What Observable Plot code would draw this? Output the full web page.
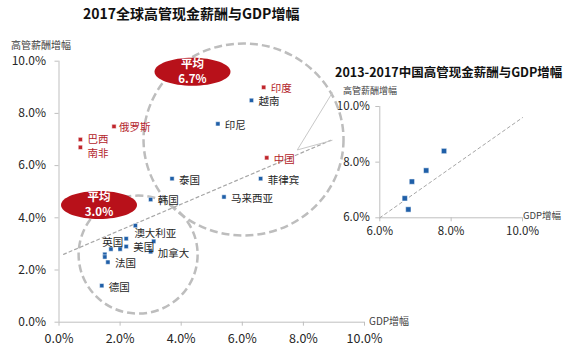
<!DOCTYPE html>
<html><head><meta charset="utf-8">
<script src="https://cdn.jsdelivr.net/npm/d3@7"></script>
<script src="https://cdn.jsdelivr.net/npm/@observablehq/plot@0.6"></script>
<style>
body{margin:0;background:#fff;}
#wrap{position:relative;width:580px;height:352px;font-family:"Noto Sans CJK SC","Noto Sans",sans-serif;overflow:hidden;}
.t{position:absolute;white-space:nowrap;line-height:1;}
</style></head><body>
<div id="wrap">
  <div class="t" style="left:83px;top:6px;font-size:14px;font-weight:bold;color:#111;">2017全球高管现金薪酬与GDP增幅</div>
  <div class="t" style="left:11px;top:40px;font-size:10px;color:#404040;">高管薪酬增幅</div>
  <div class="t" style="left:369px;top:316px;font-size:10px;color:#404040;">GDP增幅</div>
  <div class="t" style="left:335px;top:66px;font-size:12.5px;font-weight:bold;color:#111;">2013-2017中国高管现金薪酬与GDP增幅</div>
  <div class="t" style="left:343px;top:86px;font-size:9px;color:#404040;">高管薪酬增幅</div>
  <div class="t" style="left:523px;top:211px;font-size:9.5px;color:#404040;">GDP增幅</div>
</div>
<script>
// ---- main chart data (2017) ----
const countries = ["印度","中国","俄罗斯","巴西","南非","越南","印尼","泰国","菲律宾","马来西亚","韩国","澳大利亚","英国","美国","加拿大","法国","德国","","","","",""];
const gdpGrowth = [6.7,6.8,1.8,0.7,0.7,6.3,5.2,3.7,6.6,5.4,3.0,2.5,2.2,2.2,3.0,1.6,1.4,1.7,2.0,3.1,1.5,1.5];
const payGrowth = [9.0,6.3,7.5,7.0,6.7,8.5,7.6,5.5,5.5,4.8,4.7,3.7,3.2,2.9,2.7,2.3,1.4,2.8,2.8,3.1,2.6,2.5];
const groups    = ["金砖","金砖","金砖","金砖","金砖","其他","其他","其他","其他","其他","其他","其他","其他","其他","其他","其他","其他","其他","其他","其他","其他","其他"];
const axisTicks = [0,2,4,6,8,10];
// averages
const avgTitles = ["平均","平均"];
const avgValues = ["6.7%","3.0%"];
const avgX = [4.37,1.31];
const avgY = [9.6,4.49];
// trend line
const trendX = [0.15,8.9];
const trendY = [2.6,6.97];
// group circles (centres)
const ringX = [6.04,2.59];
const ringY = [7.0,2.59];
// callout lines towards inset
const calloutFromX = [7.8,7.8], calloutFromY = [6.6,6.6];
const calloutToX = [8.95,8.95], calloutToY = [8.8,6.97];

// ---- inset data (China 2013-2017) ----
const cnGdp = [7.8,7.3,6.9,6.7,6.8];
const cnPay = [8.4,7.7,7.3,6.7,6.3];
const insetTicks = [6,8,10];
const insetTrendX = [6.0,10.0];
const insetTrendY = [6.0,9.6];

// ---- styles / layout ----
const RED = "#c0262c", BLUE = "#1f5fa8", REDTXT = "#b3232a", TXT = "#262626", AX = "#bfbfbf";
const fmt = d => d.toFixed(1) + "%";
const FONT = '"Noto Sans CJK SC","Noto Sans",sans-serif';
const placement = {
  "俄罗斯": {dx:5},
  "巴西": {dy:0},
  "南非": {dy:6},
  "澳大利亚": {dx:-1, dy:8},
  "英国": {dx:-3, dy:4, textAnchor:"end"}
};
function ellipseSymbol(rx, ry){
  const k = 0.5522848;
  return {draw(c){
    c.moveTo(rx,0);
    c.bezierCurveTo(rx,k*ry,k*rx,ry,0,ry);
    c.bezierCurveTo(-k*rx,ry,-rx,k*ry,-rx,0);
    c.bezierCurveTo(-rx,-k*ry,-k*rx,-ry,0,-ry);
    c.bezierCurveTo(k*rx,-ry,rx,-k*ry,rx,0);
    c.closePath();
  }};
}

const points = countries.map((n,i)=>({name:n, gdp:gdpGrowth[i], pay:payGrowth[i], group:groups[i]}));
const avgs = avgTitles.map((t,i)=>({t, v:avgValues[i], x:avgX[i], y:avgY[i]}));
const trend = trendX.map((x,i)=>({x, y:trendY[i]}));
const rings = ringX.map((x,i)=>({x, y:ringY[i]}));
const callouts = calloutToX.map((x,i)=>({x1:calloutFromX[i], y1:calloutFromY[i], x2:x, y2:calloutToY[i]}));

const labelMarks = points.filter(p=>p.name).map(p=>{
  const o = Object.assign({dx:7, dy:1.5, textAnchor:"start"}, placement[p.name]||{});
  return Plot.text([p], {x:"gdp", y:"pay", text:"name", fill: p.group==="金砖"?REDTXT:TXT, fontSize:10.5, ...o});
});

const main = Plot.plot({
  width:580, height:352,
  marginLeft:58.5, marginRight:216, marginTop:60.7, marginBottom:30.3,
  x:{domain:[0,10]}, y:{domain:[0,10]},
  style:{fontFamily:FONT, fontSize:"12px", background:"transparent", overflow:"visible"},
  marks:[
    Plot.ruleY([0],{stroke:AX}),
    Plot.ruleX([0],{stroke:AX}),
    Plot.axisX({ticks:axisTicks, tickFormat:fmt, tickSize:4, tickPadding:8, stroke:AX, fill:TXT, fontSize:12.5, label:null}),
    Plot.axisY({ticks:axisTicks, tickFormat:fmt, tickSize:4, tickPadding:9, stroke:AX, fill:TXT, fontSize:12, label:null}),
    Plot.dot([rings[0]], {x:"x", y:"y", symbol:ellipseSymbol(100,96), r:10, stroke:"#bdbdbd", strokeWidth:2.5, strokeDasharray:"8,4", fill:"none"}),
    Plot.dot([rings[1]], {x:"x", y:"y", symbol:ellipseSymbol(59.5,59), r:10, stroke:"#bdbdbd", strokeWidth:2.5, strokeDasharray:"8,4", fill:"none"}),
    Plot.line(trend, {x:"x", y:"y", stroke:"#a6a6a6", strokeWidth:1.2, strokeDasharray:"3,3"}),
    Plot.link(callouts, {x1:"x1", y1:"y1", x2:"x2", y2:"y2", stroke:"#c8c8c8", strokeWidth:1}),
    Plot.dot(points, {x:"gdp", y:"pay", symbol:"square", r:2.4, fill:d=>d.group==="金砖"?RED:BLUE, stroke:"white", strokeWidth:0.5}),
    ...labelMarks,
    Plot.dot(avgs, {x:"x", y:"y", symbol:ellipseSymbol(38,14), r:10, fill:"#b8111a"}),
    Plot.text(avgs, {x:"x", y:"y", text:"t", fill:"white", fontWeight:"bold", fontSize:11.5, dy:-7.5}),
    Plot.text(avgs, {x:"x", y:"y", text:"v", fill:"white", fontWeight:"bold", fontSize:11.5, dy:7.5})
  ]
});
main.style.position = "absolute"; main.style.left = "0px"; main.style.top = "0px";
document.getElementById("wrap").appendChild(main);

const cn = cnGdp.map((g,i)=>({gdp:g, pay:cnPay[i]}));
const itrend = insetTrendX.map((x,i)=>({x, y:insetTrendY[i]}));
const inset = Plot.plot({
  width:250, height:160,
  marginLeft:49.3, marginRight:58, marginTop:16, marginBottom:32.7,
  x:{domain:[6,10]}, y:{domain:[6,10]},
  style:{fontFamily:FONT, fontSize:"11px", background:"transparent", overflow:"visible"},
  marks:[
    Plot.ruleY([6],{stroke:AX}),
    Plot.ruleX([6],{stroke:AX}),
    Plot.axisX({ticks:insetTicks, tickFormat:fmt, tickSize:4, tickPadding:5, stroke:AX, fill:TXT, fontSize:11.5, label:null}),
    Plot.axisY({ticks:insetTicks, tickFormat:fmt, tickSize:4, tickPadding:6, stroke:AX, fill:TXT, fontSize:11.5, label:null}),
    Plot.line(itrend, {x:"x", y:"y", stroke:"#a6a6a6", strokeWidth:1, strokeDasharray:"3,3"}),
    Plot.dot(cn, {x:"gdp", y:"pay", symbol:"square", r:3, fill:BLUE, stroke:"white", strokeWidth:0.5})
  ]
});
inset.style.position = "absolute"; inset.style.left = "330px"; inset.style.top = "90px";
document.getElementById("wrap").appendChild(inset);
</script>
</body></html>
